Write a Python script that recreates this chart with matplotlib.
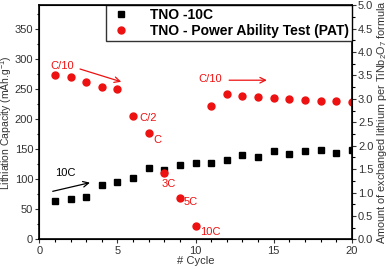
import numpy as np
from matplotlib import pyplot as plt
from matplotlib.ticker import MultipleLocator

plt.rcParams['font.family'] = ['Liberation Sans', 'DejaVu Sans']
plt.rcParams['mathtext.fontset'] = 'custom'
plt.rcParams['mathtext.rm'] = 'Liberation Sans'
plt.rcParams['mathtext.it'] = 'Liberation Sans:italic'

cycles = np.arange(1, 21)
tno_10c = [64, 67, 70, 91, 96, 102, 119, 115, 124, 128,
           127, 132, 140, 137, 147, 142, 147, 148, 144, 148]
tno_pat = [274, 270, 262, 254, 250, 205, 177, 110, 69, 22,
           222, 242, 238, 237, 235, 233, 232, 231, 230, 229]

# rate labels next to the PAT points
rate_labels = ["C/2", "C", "3C", "5C", "10C"]
rate_pos = [(6.39, 202), (7.28, 165), (7.82, 93), (9.26, 63), (10.27, 13)]

red = '#ee1111'
grey = '#333333'

fig = plt.figure(figsize=(3.9, 2.69), dpi=100)
ax = fig.add_axes([0.101, 0.11, 0.801, 0.871])

ax.plot(cycles, tno_10c, 's', color='black', ms=3.8, label='TNO -10C')
ax.plot(cycles, tno_pat, 'o', color=red, ms=5, label='TNO - Power Ability Test (PAT)')

ax.set_xlim(0, 20)
ax.set_ylim(0, 390)
ax.xaxis.set_major_locator(MultipleLocator(5))
ax.xaxis.set_minor_locator(MultipleLocator(1))
ax.yaxis.set_major_locator(MultipleLocator(50))
ax.yaxis.set_minor_locator(MultipleLocator(25))
ax.tick_params(labelsize=8, length=3, width=0.8, colors=grey, labelcolor=grey, pad=1.5)
ax.tick_params(which='minor', length=1.8, width=0.8)
ax.set_xlabel('# Cycle', fontsize=8, color=grey, labelpad=0)
ax.set_ylabel('Lithiation Capacity (mAh.g$^{-1}$)', fontsize=7.5, color=grey, va='center')
ax.yaxis.set_label_coords(-0.105, 0.5)

ax2 = ax.twinx()
ax2.set_ylim(0, 5)
ax2.yaxis.set_major_locator(MultipleLocator(0.5))
ax2.yaxis.set_minor_locator(MultipleLocator(0.25))
ax2.yaxis.set_major_formatter(plt.FormatStrFormatter('%.1f'))
ax2.tick_params(labelsize=8, length=3, width=0.8, colors=grey, labelcolor=grey, pad=1.5)
ax2.tick_params(which='minor', length=1.8, width=0.8)
ax2.set_ylabel('Amount of exchanged lithium per TiNb$_2$O$_7$ formula',
               fontsize=7.8, color=grey, va='center')
ax2.yaxis.set_label_coords(1.098, 0.5)

for s in ax.spines.values():
    s.set_linewidth(1.2)

leg = ax.legend(loc='upper right', borderaxespad=0, fancybox=False, framealpha=1,
                edgecolor=grey, prop={'weight': 'bold', 'size': 10},
                handletextpad=1.2, borderpad=0.2, labelspacing=0.15, handlelength=1.8)
leg.get_frame().set_linewidth(1.0)

for lbl, (x, y) in zip(rate_labels, rate_pos):
    ax.text(x, y, lbl, color=red, fontsize=8, va='center', ha='left')

ax.text(0.68, 289, 'C/10', color=red, fontsize=8, va='center')
ax.annotate('', xy=(5.41, 261), xytext=(2.43, 285),
            arrowprops=dict(arrowstyle='->', color=red, lw=0.9))
ax.text(10.16, 267, 'C/10', color=red, fontsize=8, va='center')
ax.annotate('', xy=(14.74, 265), xytext=(11.97, 265),
            arrowprops=dict(arrowstyle='->', color=red, lw=0.9))
ax.text(1.0, 110, '10C', color='black', fontsize=8, va='center')
ax.annotate('', xy=(3.41, 95.5), xytext=(0.68, 79),
            arrowprops=dict(arrowstyle='->', color='black', lw=0.9))

fig.savefig('out.png', dpi=100)
